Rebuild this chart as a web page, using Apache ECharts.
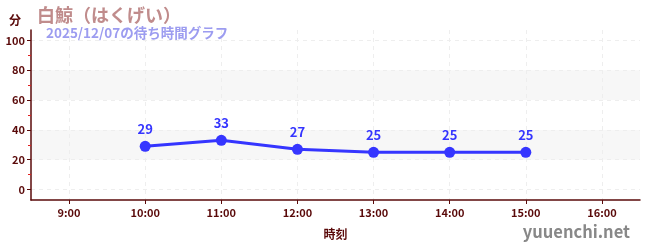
<!DOCTYPE html>
<html><head><meta charset="utf-8">
<script src="https://cdn.jsdelivr.net/npm/echarts@6/dist/echarts.min.js"></script>
<style>html,body{margin:0;padding:0;background:#fff}#c{width:650px;height:250px}</style>
</head><body><div id="c"></div>
<script>
const xTickHours = [9, 10, 11, 12, 13, 14, 15, 16];
const dataHours = [10, 11, 12, 13, 14, 15];
const waitValues = [29, 33, 27, 25, 25, 25];
const yTickValues = [0, 20, 40, 60, 80, 100];
const yMinorValues = [10, 30, 50, 70, 90];
const titleText = '白鯨（はくげい）';
const subtitleText = '2025/12/07の待ち時間グラフ';
const yName = '分';
const xName = '時刻';
const watermark = 'yuuenchi.net';

const font = '"Noto Sans CJK JP", "Noto Sans", sans-serif';
const axisColor = '#5a0a0a';
const seriesData = dataHours.map((h, i) => [h, waitValues[i]]);
const chart = echarts.init(document.getElementById('c'), null, {renderer: 'canvas'});
chart.setOption({
  animation: false,
  textStyle: {fontFamily: font},
  grid: {left: 31, right: 10, top: 30, bottom: 50, containLabel: false},
  title: [
    {text: titleText, left: 32, top: 1, textStyle: {color: '#c08c8c', fontSize: 18, fontWeight: 'bold', fontFamily: font}},
    {text: subtitleText, left: 41, top: 21, textStyle: {color: '#9c9cf0', fontSize: 13.5, fontWeight: 'bold', fontFamily: font}},
    {text: watermark, right: 15, bottom: 5, textStyle: {color: '#888', fontSize: 16.5, fontWeight: 'bold', fontFamily: font}}
  ],
  xAxis: {
    type: 'value', min: 8.5, max: 16.5,
    name: xName, nameLocation: 'middle', nameGap: 28,
    nameTextStyle: {color: axisColor, fontSize: 12, fontWeight: 'bold', fontFamily: font},
    axisLine: {onZero: false, lineStyle: {color: axisColor, width: 1.5}},
    axisTick: {show: true, length: 4, customValues: xTickHours, lineStyle: {color: axisColor}},
    axisLabel: {color: axisColor, fontSize: 11, fontWeight: 'bold', margin: 7, customValues: xTickHours,
      formatter: v => v + ':00', fontFamily: font},
    splitLine: {show: true, lineStyle: {color: '#eeeeee', type: [4, 4]}}
  },
  yAxis: [{
    type: 'value', min: -7, max: 107,
    name: yName, nameLocation: 'end', nameGap: 0,
    nameTextStyle: {color: axisColor, fontSize: 12, fontWeight: 'bold', align: 'right', verticalAlign: 'bottom', padding: [0, 10, 4, 0], fontFamily: font},
    axisLine: {show: true, onZero: false, lineStyle: {color: axisColor, width: 1.5}},
    axisTick: {show: true, length: 4, customValues: yTickValues, lineStyle: {color: axisColor}},
    axisLabel: {color: axisColor, fontSize: 11, fontWeight: 'bold', margin: 6, customValues: yTickValues, fontFamily: font},
    splitLine: {show: true, lineStyle: {color: '#eeeeee', type: [4, 4]}},
    splitArea: {show: true, areaStyle: {color: ['rgba(255,255,255,0)', '#f7f7f7']}}
  }, {
    type: 'value', min: -7, max: 107, position: 'left', offset: 0,
    axisLine: {show: true, onZero: false, lineStyle: {color: 'rgba(0,0,0,0)'}},
    axisTick: {show: true, length: 3, customValues: yMinorValues, lineStyle: {color: '#e02020', width: 1}},
    axisLabel: {show: false},
    splitLine: {show: false},
    splitArea: {show: false}
  }],
  series: [{
    type: 'line', data: seriesData, yAxisIndex: 0,
    symbol: 'circle', symbolSize: 11,
    lineStyle: {color: '#3535ff', width: 3},
    itemStyle: {color: '#3535ff'},
    label: {show: true, position: 'top', distance: 5, color: '#3535ff', fontSize: 13, fontWeight: 'bold', fontFamily: font}
  }]
});
</script></body></html>
